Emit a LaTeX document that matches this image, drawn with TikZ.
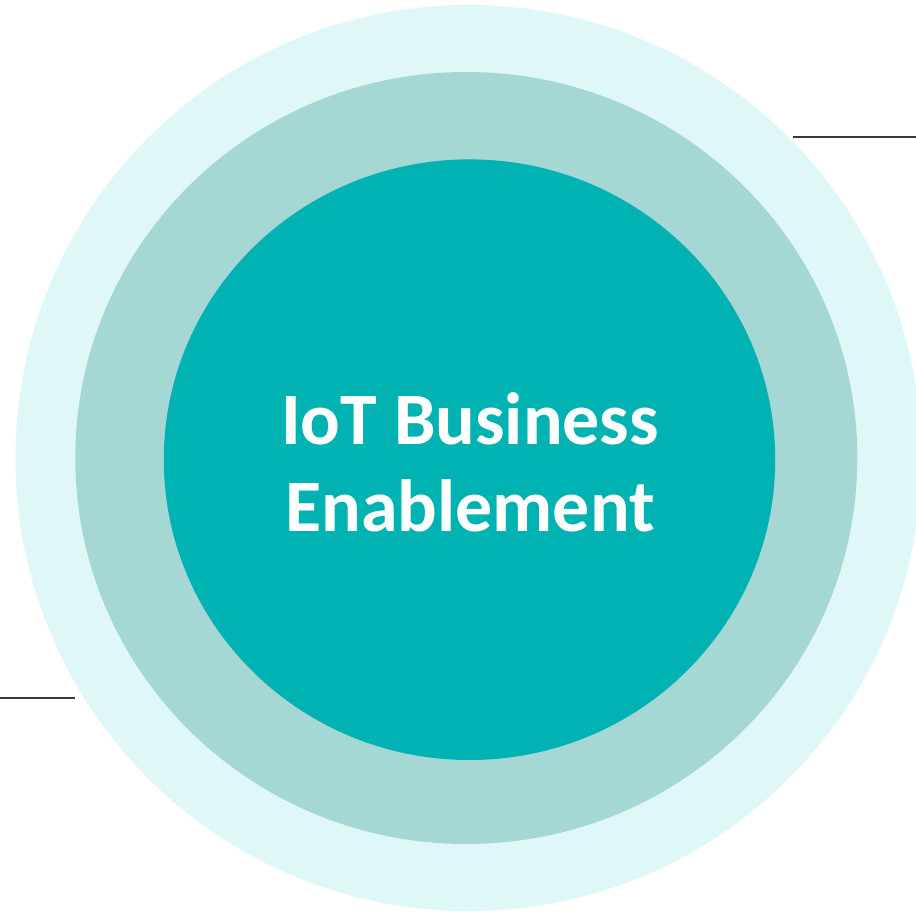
\documentclass[tikz,border=0pt]{standalone}
\usepackage{fontspec}
\setmainfont{Carlito}
\definecolor{outerc}{HTML}{DFF7F7}
\definecolor{midc}{HTML}{A5D7D5}
\definecolor{innerc}{HTML}{00B2B1}
\definecolor{linec}{HTML}{3A3A3A}
\begin{document}
\begin{tikzpicture}[x=1pt,y=-1pt,
  leader/.style={draw=linec,line width=2pt},
  title/.style={text=white,font=\fontsize{74}{87}\selectfont\bfseries,align=center}]
\clip (0,0) rectangle (916,912);
\useasboundingbox (0,0) rectangle (916,912);
\fill[white] (0,0) rectangle (916,912);
\fill[outerc] (468.5,458) ellipse [x radius=453, y radius=453];
\fill[midc] (466.3,458) ellipse [x radius=391, y radius=386];
\fill[innerc] (469.5,459.7) ellipse [x radius=305.7, y radius=300.3];
\coordinate (a1) at (793,137.5);
\coordinate (a2) at (916,137.5);
\coordinate (b1) at (0,697.5);
\coordinate (b2) at (75,697.5);
\draw[leader] (a1) -- (a2);
\draw[leader] (b1) -- (b2);
\node[title] (t) at (470,462) {IoT Business\\Enablement};
\end{tikzpicture}
\end{document}
